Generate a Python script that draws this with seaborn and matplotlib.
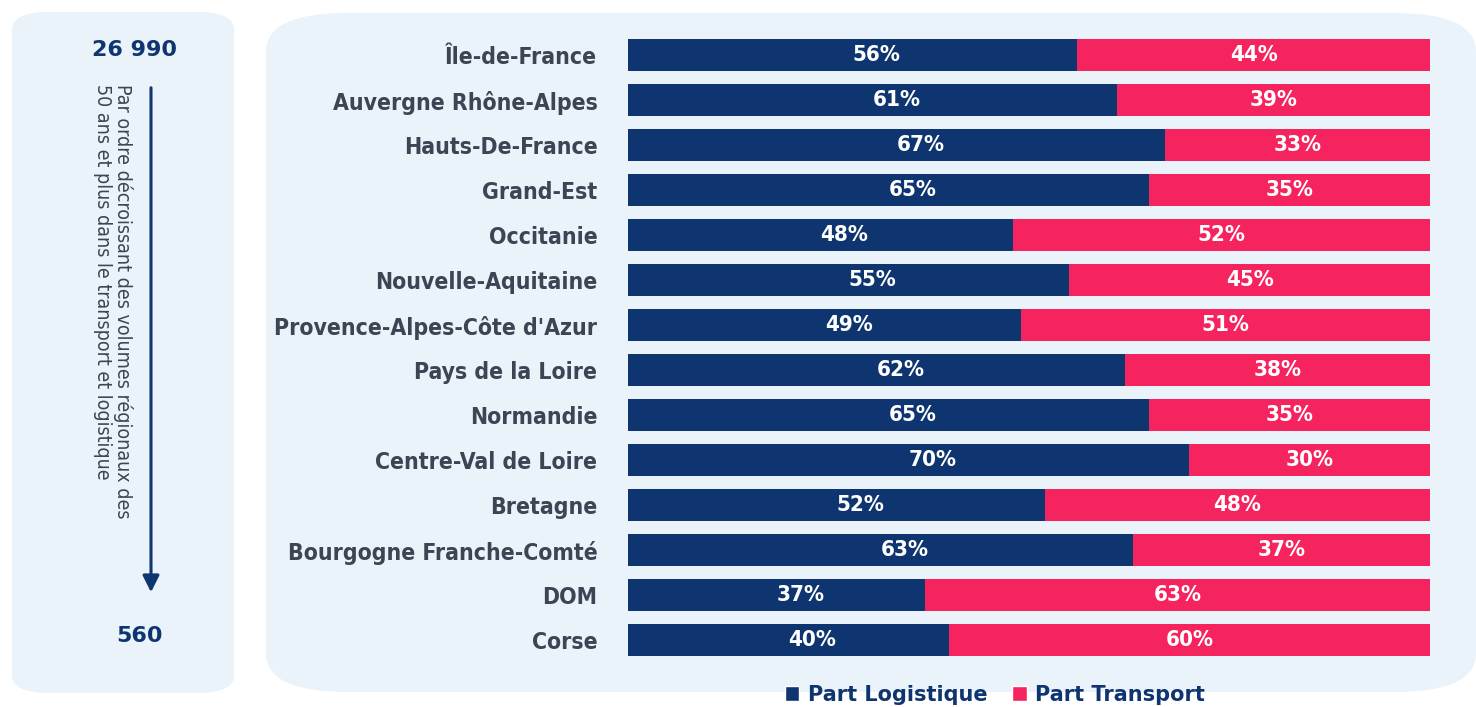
import matplotlib
matplotlib.use("Agg")
import matplotlib.pyplot as plt
import seaborn as sns
import pandas as pd
from matplotlib.patches import FancyBboxPatch, Patch

regions = ["Île-de-France", "Auvergne Rhône-Alpes", "Hauts-De-France", "Grand-Est",
           "Occitanie", "Nouvelle-Aquitaine", "Provence-Alpes-Côte d'Azur",
           "Pays de la Loire", "Normandie", "Centre-Val de Loire", "Bretagne",
           "Bourgogne Franche-Comté", "DOM", "Corse"]
part_logistique = [56, 61, 67, 65, 48, 55, 49, 62, 65, 70, 52, 63, 37, 40]
part_transport = [44, 39, 33, 35, 52, 45, 51, 38, 35, 30, 48, 37, 63, 60]
legend_labels = ["Part Logistique", "Part Transport"]
top_value = "26 990"
bottom_value = "560"
side_text = "Par ordre décroissant des volumes régionaux des\n50 ans et plus dans le transport et logistique"

NAVY = "#0f3570"
PINK = "#f5235e"
PANEL = "#eaf2fa"
TXT = "#3b4654"

sns.set_theme(style="white")
plt.rcParams['font.family'] = ['DejaVu Sans']

fig = plt.figure(figsize=(14.76, 7.07), dpi=100)
fig.patch.set_facecolor("white")

W, H = 1476, 707
def fx(x): return x / W
def fy(y): return 1 - y / H

# background panels
left_panel = FancyBboxPatch((fx(12), fy(693)), fx(222), fy(12) - fy(693),
                            boxstyle="round,pad=0,rounding_size=0.025",
                            transform=fig.transFigure, facecolor=PANEL, edgecolor="none", zorder=-5)
right_panel = FancyBboxPatch((fx(266), fy(692)), fx(1210), fy(13) - fy(692),
                             boxstyle="round,pad=0,rounding_size=0.055",
                             transform=fig.transFigure, facecolor=PANEL, edgecolor="none", zorder=-5)
fig.patches.extend([left_panel, right_panel])

ax = fig.add_axes([fx(628), fy(662.5), fx(802), fy(32.5) - fy(662.5)])
ax.set_facecolor("none")
ax.set_zorder(2)

df = pd.DataFrame({"region": regions, "log": part_logistique,
                   "total": [a + b for a, b in zip(part_logistique, part_transport)]})
sns.barplot(data=df, y="region", x="total", color=PINK, orient="h", width=0.73,
            ax=ax, saturation=1, edgecolor="none")
sns.barplot(data=df, y="region", x="log", color=NAVY, orient="h", width=0.73,
            ax=ax, saturation=1, edgecolor="none")

for i, (a, b) in enumerate(zip(part_logistique, part_transport)):
    ax.text(a / 2 + 3, i, f"{a}%", ha="center", va="center", color="white",
            fontsize=16, fontweight="bold", fontstretch="condensed")
    ax.text(a + b / 2, i, f"{b}%", ha="center", va="center", color="white",
            fontsize=16, fontweight="bold", fontstretch="condensed")

ax.set_xlim(0, 100)
ax.set_ylim(13.5, -0.5)
ax.set_xlabel("")
ax.set_ylabel("")
ax.set_xticks([])
for s in ax.spines.values():
    s.set_visible(False)
ax.tick_params(axis="y", length=0, pad=22)
for lab in ax.get_yticklabels():
    lab.set_fontsize(16.5)
    lab.set_color(TXT)
    lab.set_fontweight("bold")
    lab.set_fontstretch("condensed")

# legend
handles = [Patch(facecolor=NAVY, label=legend_labels[0]),
           Patch(facecolor=PINK, label=legend_labels[1])]
leg = fig.legend(handles=handles, loc="center", bbox_to_anchor=(fx(995), fy(695)),
                 ncol=2, frameon=False, handlelength=0.7, handleheight=0.7,
                 handletextpad=0.4, columnspacing=1.2,
                 prop={"family": "DejaVu Sans", "weight": "bold", "size": 15})
for t in leg.get_texts():
    t.set_color(NAVY)

# left panel content
fig.text(fx(135), fy(50), top_value, ha="center", va="center", fontsize=16,
         fontweight="bold", color=NAVY)
fig.text(fx(140), fy(636), bottom_value, ha="center", va="center", fontsize=16,
         fontweight="bold", color=NAVY)
fig.add_artist(matplotlib.patches.FancyArrowPatch(
    (fx(151), fy(85)), (fx(151), fy(595)), transform=fig.transFigure,
    arrowstyle="-|>,head_length=10,head_width=5", color=NAVY, lw=2.2,
    mutation_scale=1))
fig.text(fx(113), fy(84), side_text, ha="center", va="top", rotation=-90,
         fontsize=14, color=TXT, linespacing=1.1, fontstretch="condensed",
         multialignment="left")

fig.savefig("out.png", dpi=100, facecolor="white")
